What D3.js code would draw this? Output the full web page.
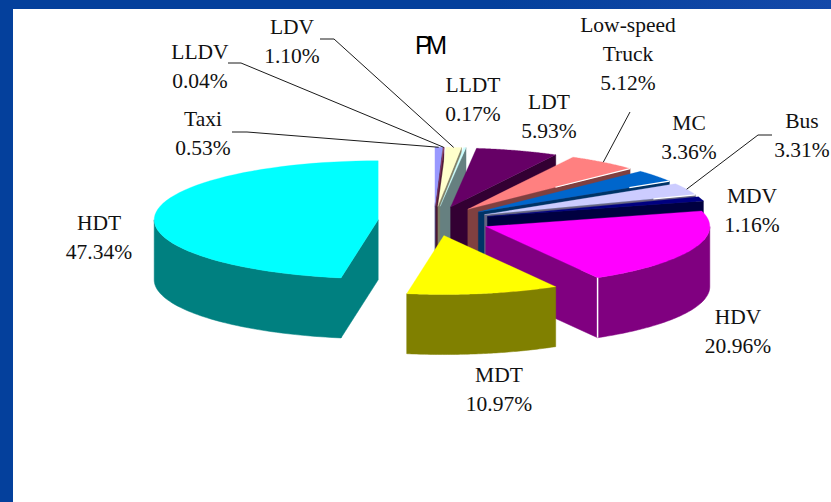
<!DOCTYPE html>
<html><head><meta charset="utf-8">
<script src="https://cdn.jsdelivr.net/npm/d3@7"></script>
<style>html,body{margin:0;padding:0;background:#fff}svg{display:block}</style>
</head><body><svg id="c" width="831" height="502"></svg>
<script>
const categories=["Taxi","LLDV","LDV","LLDT","LDT","Low-speed Truck","MC","Bus","MDV","HDV","MDT","HDT"];
const shares=[0.53,0.04,1.10,0.17,5.93,5.12,3.36,3.31,1.16,20.96,10.97,47.34];
const topColors=["#9999FF","#993366","#FFFFCC","#CCFFFF","#660066","#FF8080","#0066CC","#CCCCFF","#000080","#FF00FF","#FFFF00","#00FFFF"];
const wallColors=["#4D4D80","#4D1933","#808066","#668080","#330033","#804040","#003366","#666680","#000040","#800080","#808000","#008080"];
const labelLines=[["Taxi","0.53%"],["LLDV","0.04%"],["LDV","1.10%"],["LLDT","0.17%"],["LDT","5.93%"],["Low-speed","Truck","5.12%"],["MC","3.36%"],["Bus","3.31%"],["MDV","1.16%"],["HDV","20.96%"],["MDT","10.97%"],["HDT","47.34%"]];
const labelAnchor=[[203,126],[200,59],[292,34],[473,92],[549,109],[628,32],[689,130],[802,128],[752,203],[738,324],[499,382],[99,230]];
const leaderElbows={0:[[232,132],[247,132]],1:[[228,63],[241,63]],2:[[320,39],[334,39]],5:[[630,112]],7:[[772,135],[758,135]]};
const edgeGlint={5:0.54,6:0.79,7:0.8};
const title="PM";

const cx=434,cy=221,rx=224,ry=59,depth=60,explode=0.25,fontSize=21.5,lead=29;
const svg=d3.select("#c");
const defs=svg.append("defs");
const g=defs.append("linearGradient").attr("id","frame");
g.append("stop").attr("offset","0.6").attr("stop-color","#04409C");
g.append("stop").attr("offset","1").attr("stop-color","#1449A9");
svg.append("rect").attr("width",831).attr("height",9).attr("fill","url(#frame)");
svg.append("rect").attr("y",0).attr("width",13).attr("height",502).attr("fill","#04409C");

const arcs=d3.pie().sort(null).value(d=>d)(shares);
const px=d3.scaleLinear().domain([-1,1]).range([-rx,rx]);
const py=d3.scaleLinear().domain([-1,1]).range([-ry,ry]);
const line=d3.line();
const slices=arcs.map((a,i)=>{
  const mid=(a.startAngle+a.endAngle)/2;
  const ax=cx+px(explode*Math.sin(mid)),ay=cy-py(explode*Math.cos(mid));
  const rim=t=>[ax+px(Math.sin(t)),ay-py(Math.cos(t))];
  return {i,a,mid,ax,ay,rim};
});
const layer=svg.append("g");
function face(s,t,fill){
  const p=s.rim(t);
  layer.append("path").attr("d",line([[s.ax,s.ay],p,[p[0],p[1]+depth],[s.ax,s.ay+depth]])+"Z")
    .attr("fill",fill).attr("stroke",fill).attr("stroke-width",0.5);
}
slices.forEach(s=>{
  const {a,i}=s,wall=wallColors[i];
  if(Math.sin(a.startAngle)<-1e-6) face(s,a.startAngle,wall);
  if(Math.sin(a.endAngle)>1e-6) face(s,a.endAngle,wall);
  const lo=Math.max(a.startAngle,Math.PI/2),hi=Math.min(a.endAngle,3*Math.PI/2);
  if(hi>lo){
    const ts=d3.range(0,61).map(k=>lo+(hi-lo)*k/60);
    const pts=ts.map(s.rim);
    const poly=pts.concat(pts.slice().reverse().map(p=>[p[0],p[1]+depth]));
    layer.append("path").attr("d",line(poly)+"Z").attr("fill",wall).attr("stroke",wall).attr("stroke-width",0.5);
  }
  const ts=d3.range(0,61).map(k=>a.startAngle+(a.endAngle-a.startAngle)*k/60);
  layer.append("path").attr("d",line([[s.ax,s.ay]].concat(ts.map(s.rim)))+"Z").attr("fill",topColors[i]).attr("stroke",topColors[i]).attr("stroke-width",0.3);
  if(categories[i]==="HDV"){
    const p=s.rim(a.endAngle);
    layer.append("path").attr("d",line([p,[p[0],p[1]+depth]])).attr("stroke","#fff").attr("stroke-width",1.5);
  }
  if(edgeGlint[i]!==undefined){
    const p=s.rim(a.endAngle),f=edgeGlint[i];
    const q=[s.ax+(p[0]-s.ax)*f,s.ay+(p[1]-s.ay)*f];
    layer.append("path").attr("d",line([q,p])).attr("stroke","#fff").attr("stroke-width",1.2);
  }
});

// leader lines
Object.keys(leaderElbows).forEach(k=>{
  const s=slices[+k],end=s.rim(s.mid);
  svg.append("path").attr("d",line(leaderElbows[k].concat([end])))
    .attr("fill","none").attr("stroke","#000").attr("stroke-width",0.9);
});
// labels
labelLines.forEach((ls,i)=>{
  const t=svg.append("text").attr("text-anchor","middle").attr("font-family","'Liberation Serif',serif").attr("font-size",fontSize).attr("fill","#111");
  ls.forEach((l,j)=>t.append("tspan").attr("x",labelAnchor[i][0]).attr("y",labelAnchor[i][1]+j*lead).text(l));
});
svg.append("text").attr("x",415).attr("y",54).attr("font-family","'Liberation Sans',sans-serif").attr("font-size",25).attr("letter-spacing",-5.5).attr("fill","#000").text(title);
</script></body></html>
